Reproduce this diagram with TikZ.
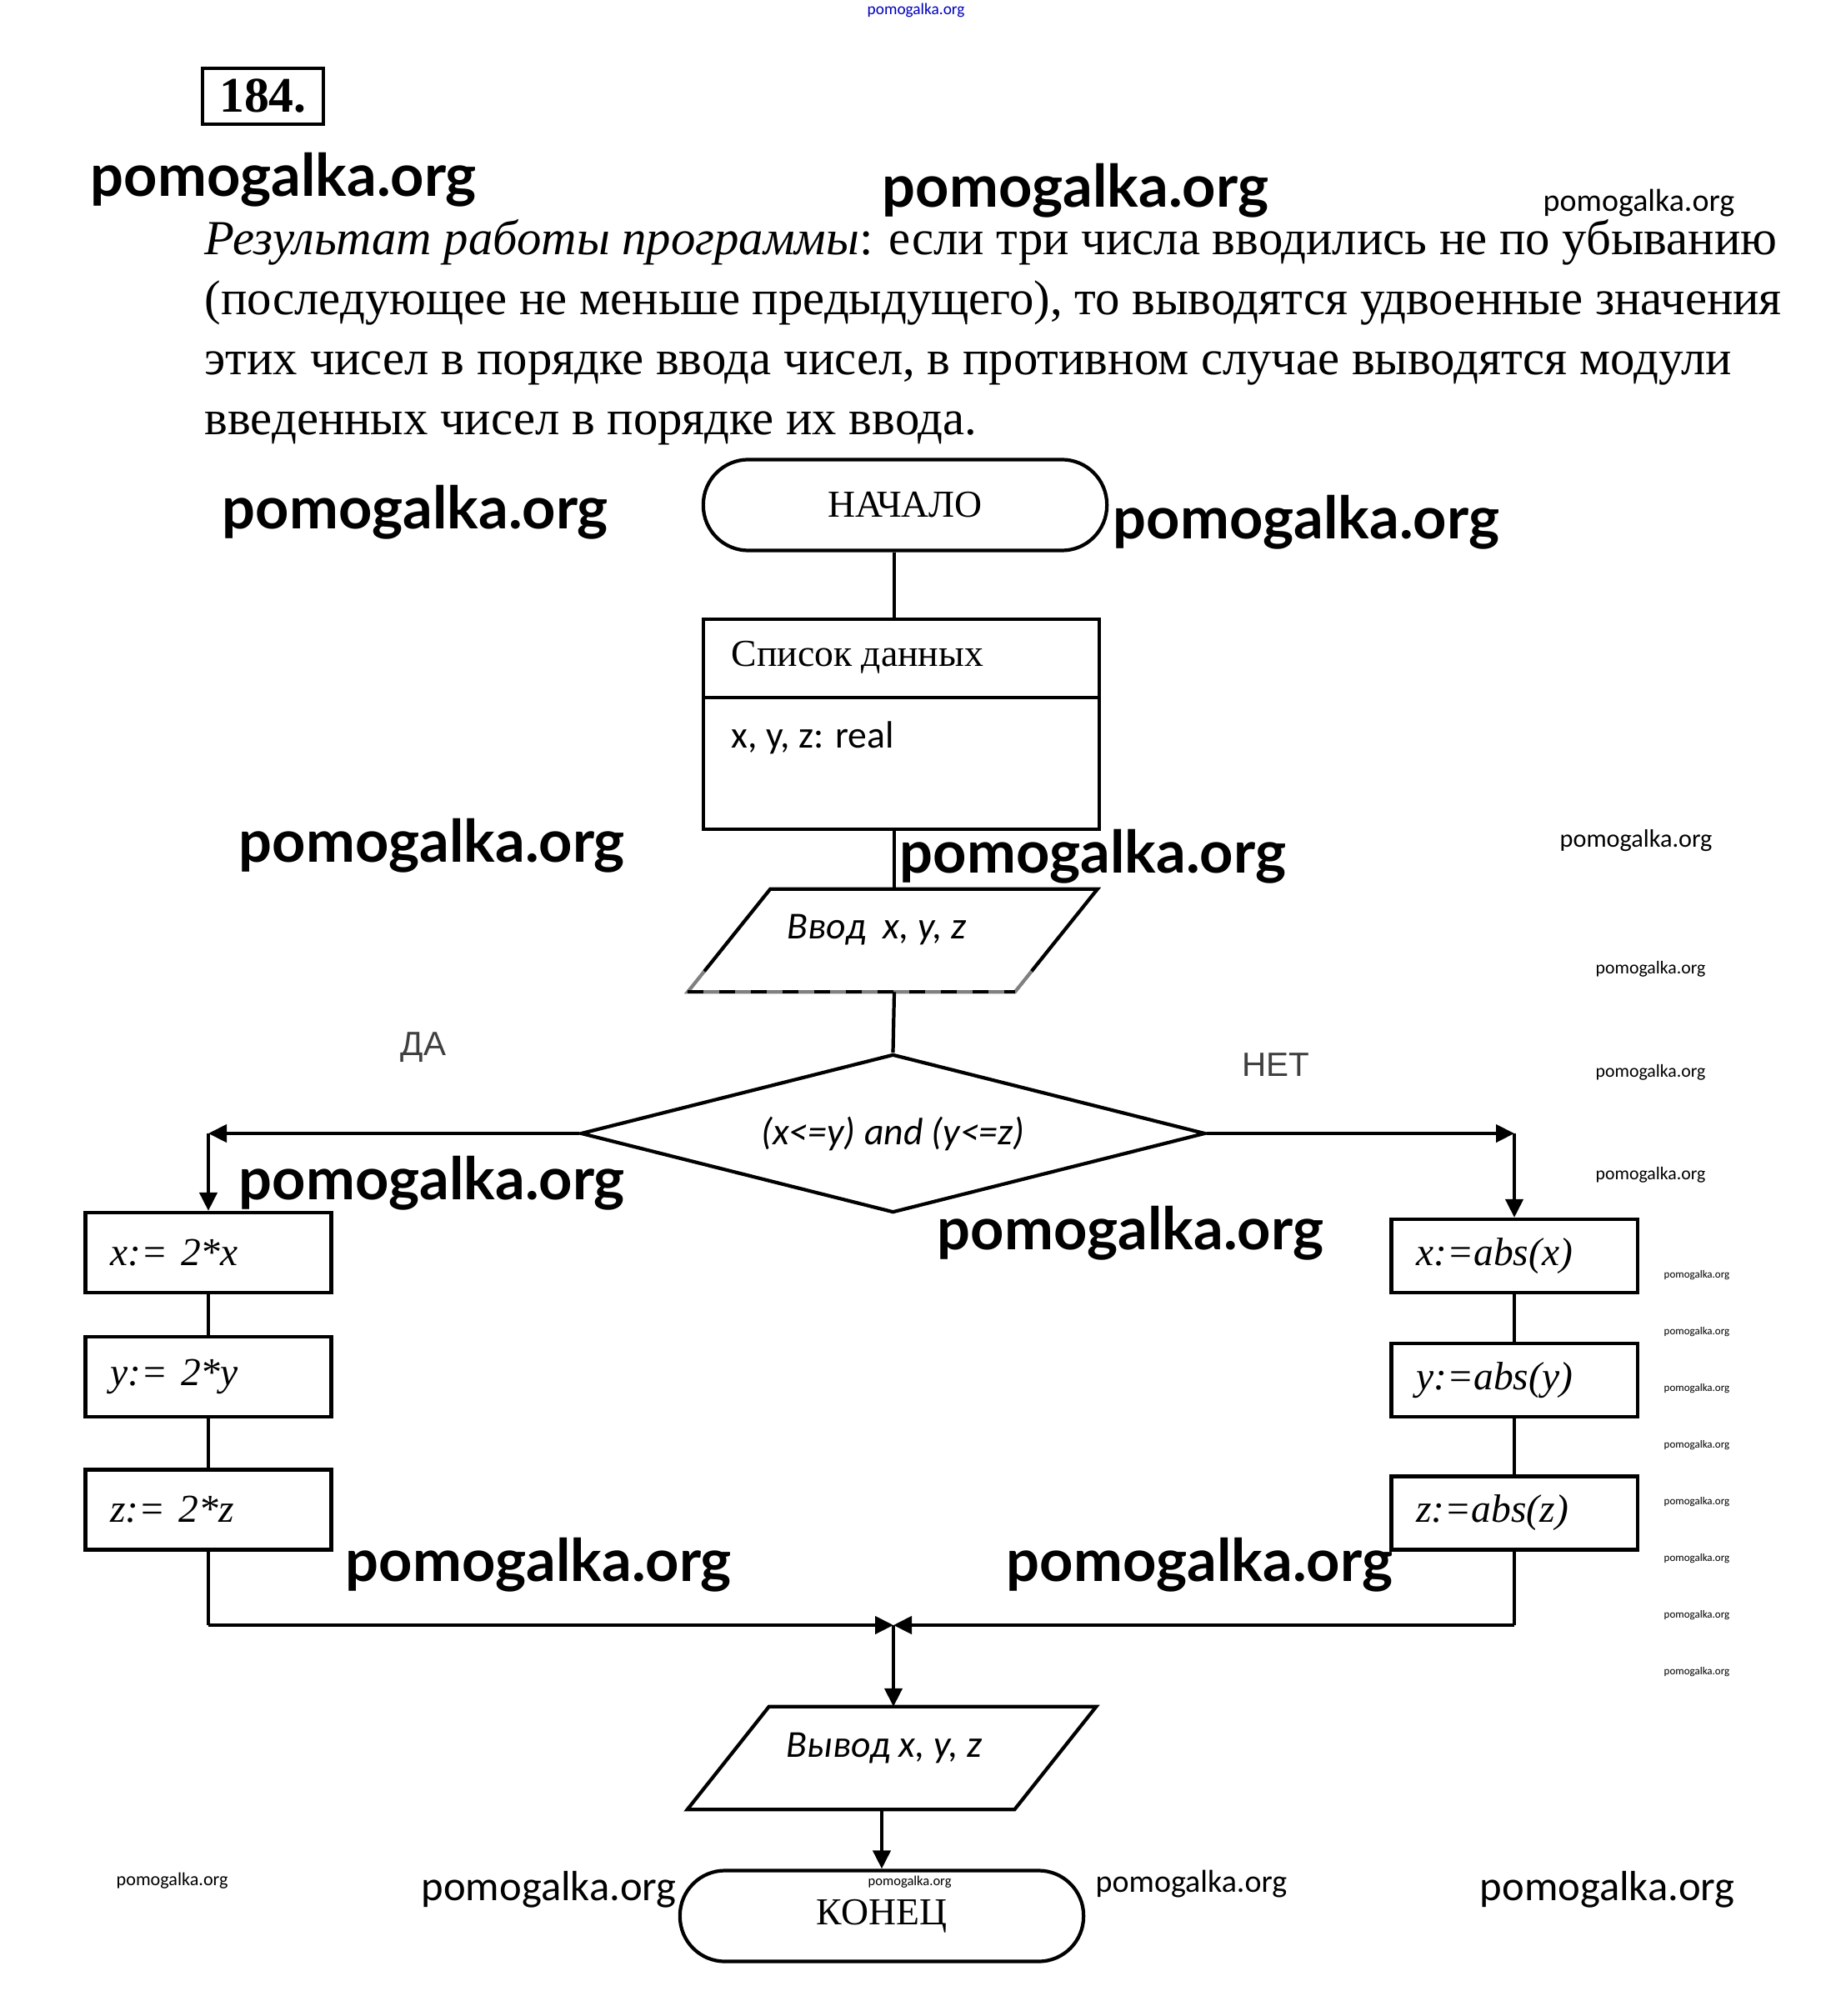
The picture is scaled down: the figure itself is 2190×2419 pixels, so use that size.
\documentclass[tikz,border=0pt]{standalone}
\usepackage{fontspec}
\setmainfont{Liberation Serif}
\newfontfamily\calfont{Carlito}
\newfontfamily\wmfont{Lato}
\newfontfamily\arialfont{Liberation Sans}
\usetikzlibrary{shapes.geometric,arrows.meta,calc,positioning}

\tikzset{
  line/.style={line width=1.2pt},
  arr/.style={line width=1.2pt,-{Triangle[length=0.22cm,width=0.21cm]}},
  term/.style={draw,line width=1.2pt,rectangle,rounded corners=0.54cm,minimum width=4.84cm,minimum height=1.09cm,font=\fontsize{13}{15}\selectfont},
  proc/.style={draw,line width=1.2pt,minimum width=2.95cm,text width=2.35cm,inner xsep=0.3cm,inner ysep=0pt,align=left,font=\fontsize{13.5}{15}\selectfont\itshape},
  io/.style={rectangle,minimum width=3.91cm,minimum height=1.22cm,inner sep=0pt},
  iotext/.style={inner sep=0pt,font=\calfont\itshape\fontsize{13}{15}\selectfont},
  cond/.style={diamond,draw,aspect=3.94,minimum width=7.49cm,minimum height=1.90cm,inner sep=0pt,line width=1.2pt,font=\calfont\itshape\fontsize{13}{15}\selectfont},
  answer/.style={font=\arialfont\fontsize{11.5}{13}\selectfont,text=black!75,inner sep=0pt},
  wm/.style={font=\wmfont\bfseries\fontsize{#1}{#1}\selectfont,anchor=west,inner sep=0pt},
  wmsmall/.style={font=\calfont\fontsize{#1}{#1}\selectfont,anchor=west,inner sep=0pt},
}

\begin{document}
\begin{tikzpicture}[x=0.01cm,y=-0.01cm]
	\useasboundingbox (0,0) rectangle (2190,2419);
	% task number and text
	\node[draw,line width=1pt,minimum width=1.45cm,minimum height=0.67cm,inner sep=0pt,font=\bfseries\fontsize{17}{19}\selectfont] (number) at (315.5,115.5) {184.};
	\node[anchor=base west,inner sep=0pt,align=left,font=\fontsize{16.7}{20.5}\selectfont] (result) at (245,522)
	{\textit{Результат работы программы}: если три числа вводились не по убыванию\\
	(последующее не меньше предыдущего), то выводятся удвоенные значения\\
	этих чисел в порядке ввода чисел, в противном случае выводятся модули\\
	введенных чисел в порядке их ввода.};
	\coordinate (spine) at (1073,0);
	% start and data list
	\node[term] (start) at (1086,606) {НАЧАЛО};
	\node[draw,line width=1.2pt,minimum width=4.75cm,minimum height=2.52cm] (vars) at (1081.5,869) {};
	\node[anchor=west,inner sep=0pt,font=\fontsize{13}{15}\selectfont] (varstitle) at (877,789) {Список данных};
	\node[anchor=west,inner sep=0pt,font=\calfont\fontsize{13}{15}\selectfont] (varsbody) at (877,885) {x, y, z: real};
	\draw[line] (vars.west |- 0,837) -- (vars.east |- 0,837);
	\draw[line] (start.south -| spine) -- (vars.north -| spine);
	% input
	\node[io] (input) at (1071,1128.5) {};
	\node[iotext] (inputtext) at (1052,1116) {Ввод\ \ x, y, z};
	\coordinate (inTL) at ($(input.north west)+(49.5,0)$);
	\coordinate (inTR) at ($(input.north east)+(49.5,0)$);
	\coordinate (inBR) at ($(input.south east)+(-49.5,0)$);
	\coordinate (inBL) at ($(input.south west)+(-49.5,0)$);
	\draw[line] ($(inBL)!0.2!(inTL)$) -- (inTL) -- (inTR) -- ($(inBR)!0.2!(inTR)$);
	\draw[line,black!50] ($(inBL)!0.2!(inTL)$) -- (inBL) -- (inBR) -- ($(inBR)!0.2!(inTR)$);
	\draw[line,dash pattern=on 0.19cm off 0.19cm] (inBL) -- (inBR);
	\draw[line] (vars.south -| spine) -- (input.north -| spine);
	% condition
	\node[cond] (check) at (1071.5,1360) {(x<=y) and (y<=z)};
	\draw[line] (input.south -| spine) -- (check.north);
	\node[answer] (yes) at (508,1257) {ДА};
	\node[answer] (no) at (1531,1278) {НЕТ};
	\coordinate (yesturn) at (250,1360);
	\coordinate (noturn) at (1817,1360);
	% left branch
	\node[proc,minimum height=0.96cm] (xa) at (250,1503) {x:= 2*x};
	\node[proc,minimum height=0.96cm] (ya) at (250,1652) {y:= 2*y};
	\node[proc,minimum height=0.96cm] (za) at (250,1811.5) {z:= 2*z};
	\draw[arr] (check.west) -- (yesturn);
	\draw[arr] (yesturn) -- (xa.north);
	\draw[line] (xa) -- (ya);
	\draw[line] (ya) -- (za);
	% right branch
	\node[proc,minimum height=0.88cm] (xb) at (1817,1507) {x:=abs(x)};
	\node[proc,minimum height=0.88cm] (yb) at (1817,1656) {y:=abs(y)};
	\node[proc,minimum height=0.88cm] (zb) at (1817,1815.5) {z:=abs(z)};
	\draw[arr] (check.east) -- (noturn);
	\draw[arr] (noturn) -- (xb.north);
	\draw[line] (xb) -- (yb);
	\draw[line] (yb) -- (zb);
	% merge, output, end
	\coordinate (merge) at (1072,1950);
	\node[io] (output) at (1070,2109.5) {};
	\node[iotext] (outputtext) at (1061,2098) {Вывод x, y, z};
	\draw[line] ($(output.north west)+(49,0)$) -- ($(output.north east)+(49,0)$)
		-- ($(output.south east)+(-49,0)$) -- ($(output.south west)+(-49,0)$) -- cycle;
	\node[term] (stop) at (1058,2299) {КОНЕЦ};
	\draw[line] (za.south) -- (za.south |- merge);
	\draw[arr] (za.south |- merge) -- (merge);
	\draw[line] (zb.south) -- (zb.south |- merge);
	\draw[arr] (zb.south |- merge) -- (merge);
	\draw[arr] (merge) -- (merge |- output.north);
	\draw[arr] (output.south -| stop.north) -- (stop.north);
	% watermarks
	\node[wmsmall=5.5,text=blue!75!black] (wm1) at (1040,12) {pomogalka.org};
	\node[wm=20] (wm2) at (108,216) {pomogalka.org};
	\node[wm=20] (wm3) at (1058,229) {pomogalka.org};
	\node[wmsmall=10.8] (wm4) at (1851,244) {pomogalka.org};
	\node[wm=20] (wm5) at (266,615) {pomogalka.org};
	\node[wm=20] (wm6) at (1335,627) {pomogalka.org};
	\node[wm=20] (wm7) at (286,1015) {pomogalka.org};
	\node[wm=20] (wm8) at (1079,1028) {pomogalka.org};
	\node[wmsmall=8.6] (wm9) at (1871,1009) {pomogalka.org};
	\node[wmsmall=6.2] (wm10) at (1914,1163) {pomogalka.org};
	\node[wmsmall=6.2] (wm11) at (1914,1287) {pomogalka.org};
	\node[wmsmall=6.2] (wm12) at (1914,1410) {pomogalka.org};
	\node[wm=20] (wm13) at (286,1420) {pomogalka.org};
	\node[wm=20] (wm14) at (1124,1480) {pomogalka.org};
	\foreach \k in {0,...,7}
		\node[wmsmall=3.7] (wmcol\k) at (1996,{1530+68*\k}) {pomogalka.org};
	\node[wm=20] (wm15) at (414,1878) {pomogalka.org};
	\node[wm=20] (wm16) at (1207,1878) {pomogalka.org};
	\node[wmsmall=6.3] (wm17) at (139,2257) {pomogalka.org};
	\node[wmsmall=14.4] (wm18) at (505,2267) {pomogalka.org};
	\node[wmsmall=10.8] (wm19) at (1314,2261) {pomogalka.org};
	\node[wmsmall=14.4] (wm20) at (1775,2267) {pomogalka.org};
	\node[wmsmall=4.7] (wm21) at (1041,2258) {pomogalka.org};
\end{tikzpicture}
\end{document}
